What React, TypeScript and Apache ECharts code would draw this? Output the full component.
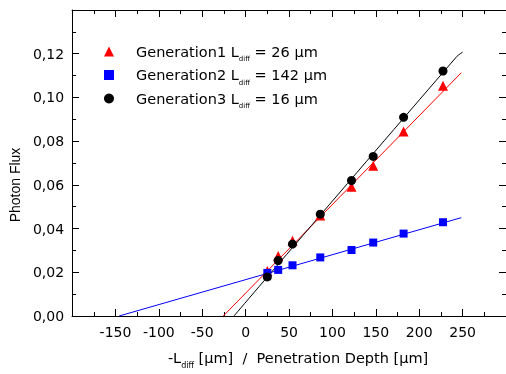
import React, { useEffect, useRef } from "react";
import * as echarts from "echarts";

const depthX = [25, 37.5, 54, 86, 122, 147, 182, 227.4];
const gen1Y = [0.0206, 0.0274, 0.0344, 0.046, 0.0591, 0.0687, 0.0844, 0.1054];
const gen2Y = [0.0197, 0.0211, 0.0232, 0.0268, 0.0302, 0.0336, 0.0377, 0.0429];
const gen3Y = [0.0179, 0.0254, 0.0329, 0.0466, 0.062, 0.073, 0.0909, 0.1121];

const fit1: [number, number][] = [[-25.8, 0], [248.5, 0.1113]];
const fit2: [number, number][] = [[-145.8, 0], [248.5, 0.045]];
const fit3: [number, number][] = [[-13.5, 0], [243.5, 0.1188], [250, 0.1207]];

const names = ["Generation1", "Generation2", "Generation3"];
const ldiff = ["26", "142", "16"];

const FONT = "'DejaVu Sans', Verdana, sans-serif";
const FONT_Y = "'Liberation Sans', Arial, Helvetica, sans-serif";

export default function App() {
  const ref = useRef<HTMLDivElement>(null);
  useEffect(() => {
    const chart = echarts.init(ref.current!, null, { renderer: "svg" });
    const pts = (ys: number[]) => depthX.map((x, i) => [x, ys[i]]);
    const axisCommon = {
      axisLine: { show: true, onZero: false, lineStyle: { color: "#000", width: 1 } },
      axisTick: { show: true, inside: true, length: 7, lineStyle: { color: "#000" } },
      minorTick: { show: true, splitNumber: 2, length: 4, lineStyle: { color: "#000" } },
      splitLine: { show: false },
    };
    const legendFmt = (name: string) => {
      const i = names.indexOf(name);
      return `{sp|}{n|${name} L}{s|diff}{n| = ${ldiff[i]} μm}`;
    };
    chart.setOption({
      animation: false,
      textStyle: { fontFamily: FONT },
      grid: { left: 72, top: 10, right: -2, bottom: 54, containLabel: false },
      legend: {
        orient: "vertical",
        left: 104,
        top: 44,
        padding: 0,
        itemWidth: 10,
        itemHeight: 10,
        itemGap: 5,
        data: names,
        formatter: legendFmt,
        textStyle: {
          fontFamily: FONT,
          rich: {
            sp: { width: 17 },
            n: { fontSize: 14.5, color: "#000", fontFamily: FONT, lineHeight: 16 },
            s: { fontSize: 7, color: "#000", fontFamily: FONT, verticalAlign: "bottom", lineHeight: 16, padding: [0, 0, -3, 0] },
          },
        },
      },
      xAxis: [
        {
          type: "value",
          min: -200,
          max: 300,
          interval: 50,
          position: "bottom",
          ...axisCommon,
          axisLabel: { show: true, showMinLabel: false, showMaxLabel: false, fontSize: 14, color: "#000", margin: 9, fontFamily: FONT },
          name: "{a|-L}{s|diff}{a| [μm]  /  Penetration Depth [μm]}",
          nameLocation: "middle",
          nameGap: 34,
          nameTextStyle: {
            padding: [0, 0, 0, 18],
            rich: {
              a: { fontSize: 14.5, color: "#000", fontFamily: FONT, lineHeight: 16 },
              s: { fontSize: 8, color: "#000", fontFamily: FONT, verticalAlign: "bottom", lineHeight: 16, padding: [0, 0, -3, 0] },
            },
          },
        },
        {
          type: "value",
          min: -200,
          max: 300,
          interval: 50,
          position: "top",
          ...axisCommon,
          axisLabel: { show: false },
        },
      ],
      yAxis: [
        {
          type: "value",
          min: 0,
          max: 0.14,
          interval: 0.02,
          position: "left",
          ...axisCommon,
          axisLabel: {
            show: true,
            showMaxLabel: false,
            fontSize: 14,
            color: "#000",
            margin: 8,
            fontFamily: FONT,
            formatter: (v: number) => v.toFixed(2).replace(".", ","),
          },
          name: "Photon Flux",
          nameLocation: "middle",
          nameGap: 50,
          nameTextStyle: { fontSize: 14, color: "#000", fontFamily: FONT_Y, padding: [0, 44, 0, 0] },
        },
        {
          type: "value",
          min: 0,
          max: 0.14,
          interval: 0.02,
          position: "right",
          ...axisCommon,
          axisLabel: { show: false },
        },
      ],
      series: [
        { type: "line", data: fit1, showSymbol: false, symbol: "none", lineStyle: { color: "#ff0000", width: 1 }, silent: true, z: 1 },
        { type: "line", data: fit2, showSymbol: false, symbol: "none", lineStyle: { color: "#0000ff", width: 1 }, silent: true, z: 1 },
        { type: "line", data: fit3, showSymbol: false, symbol: "none", smooth: 0.3, lineStyle: { color: "#000000", width: 1 }, silent: true, z: 1 },
        { name: names[0], type: "scatter", data: pts(gen1Y), symbol: "triangle", symbolSize: 10, itemStyle: { color: "#ff0000", opacity: 1 }, z: 3 },
        { name: names[1], type: "scatter", data: pts(gen2Y), symbol: "rect", symbolSize: 8, itemStyle: { color: "#0000ff", opacity: 1 }, z: 3 },
        { name: names[2], type: "scatter", data: pts(gen3Y), symbol: "circle", symbolSize: 9, itemStyle: { color: "#000000", opacity: 1 }, z: 4 },
      ],
    });
    return () => chart.dispose();
  }, []);
  return <div ref={ref} style={{ position: "fixed", left: 0, top: 0, width: 506, height: 374 }} />;
}
